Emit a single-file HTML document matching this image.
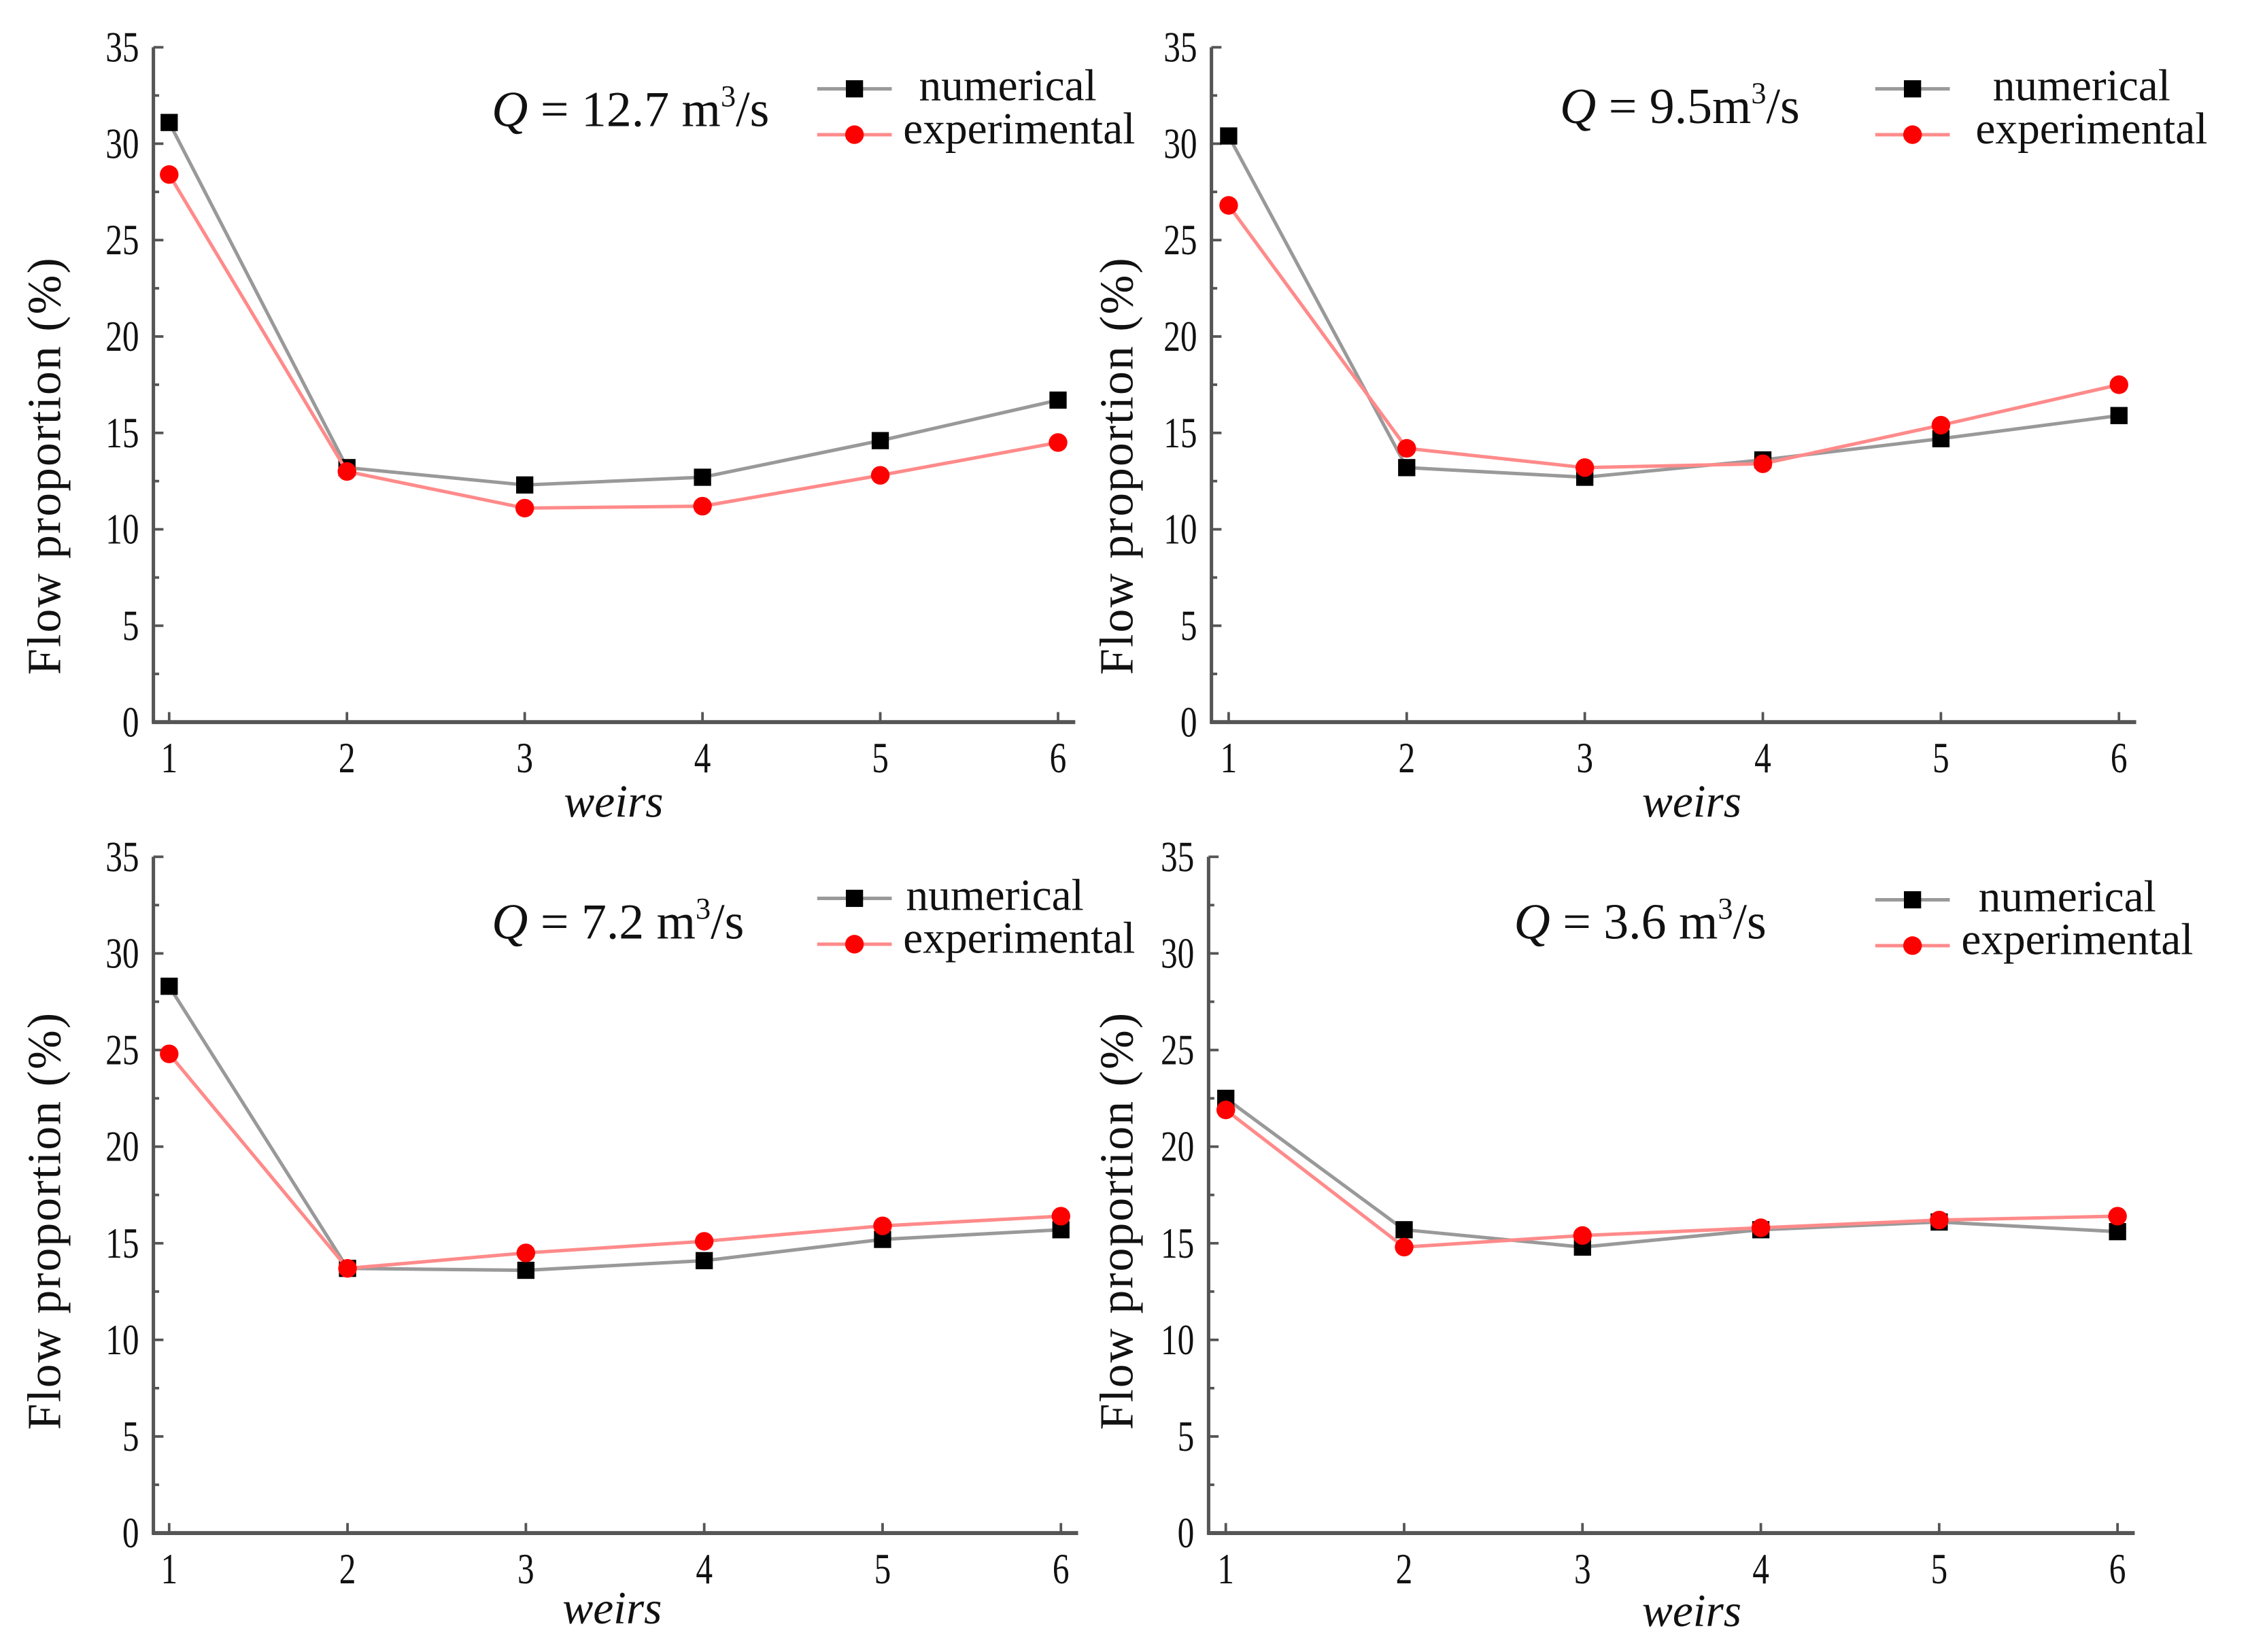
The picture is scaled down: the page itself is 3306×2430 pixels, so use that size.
<!DOCTYPE html>
<html><head><meta charset="utf-8"><style>
html,body{margin:0;padding:0;background:#fff;}
svg{display:block;font-family:"Liberation Serif","DejaVu Serif",serif;}
svg text{font-family:"Liberation Serif","DejaVu Serif",serif;fill:#111;}
</style></head><body>
<svg id="fig" width="3306" height="2430" viewBox="0 0 1568 1153" preserveAspectRatio="none" font-family="Liberation Serif, serif" xmlns="http://www.w3.org/2000/svg"></svg>
<script>
const categories = [1, 2, 3, 4, 5, 6];
const yTicks = [0, 5, 10, 15, 20, 25, 30, 35];
const panelTitles = ["12.7 m", "9.5m", "7.2 m", "3.6 m"];
const numA = [31.1, 13.2, 12.3, 12.7, 14.6, 16.7];
const expA = [28.4, 13.0, 11.1, 11.2, 12.8, 14.5];
const numB = [30.4, 13.2, 12.7, 13.6, 14.7, 15.9];
const expB = [26.8, 14.2, 13.2, 13.4, 15.4, 17.5];
const numC = [28.3, 13.7, 13.6, 14.1, 15.2, 15.7];
const expC = [24.8, 13.7, 14.5, 15.1, 15.9, 16.4];
const numD = [22.5, 15.7, 14.8, 15.7, 16.1, 15.6];
const expD = [21.9, 14.8, 15.4, 15.8, 16.2, 16.4];

const NS = "http://www.w3.org/2000/svg";
const svg = document.getElementById('fig');
function mk(tag, attrs, parent, txt){
  const e = document.createElementNS(NS, tag);
  for (const k in attrs) e.setAttribute(k, attrs[k]);
  if (tag === 'text') e.setAttribute('font-family', 'Liberation Serif, serif');
  if (txt !== undefined) e.textContent = txt;
  (parent || svg).appendChild(e);
  return e;
}
const panels = [
  {ax:107, y0:504, y35:33, x1:118, x6:738, xe:750, num:numA, exp:expA, title:panelTitles[0], qx:343, qy:88, lx:570, ly:62, ntx:641, etx:630, ylx:42, yly:325, wx:428, wy:570, name:'panel-q-12-7'},
  {ax:845, y0:504, y35:33, x1:857, x6:1478, xe:1490, num:numB, exp:expB, title:panelTitles[1], qx:1088, qy:86, lx:1308, ly:62, ntx:1390, etx:1378, ylx:790, yly:325, wx:1180, wy:570, name:'panel-q-9-5'},
  {ax:107, y0:1070, y35:598, x1:118, x6:740, xe:752, num:numC, exp:expC, title:panelTitles[2], qx:343, qy:655, lx:570, ly:627, ntx:632, etx:630, ylx:42, yly:852, wx:427, wy:1133, name:'panel-q-7-2'},
  {ax:843, y0:1070, y35:598, x1:855, x6:1477, xe:1489, num:numD, exp:expD, title:panelTitles[3], qx:1056, qy:655, lx:1308, ly:628, ntx:1380, etx:1368, ylx:790, yly:852, wx:1180, wy:1135, name:'panel-q-3-6'}
];
panels.forEach(p => {
  const g = mk('g', {});
  
  
  const X = c => p.x1 + (c - 1) * (p.x6 - p.x1) / 5;
  const Y = v => p.y0 - v * (p.y0 - p.y35) / 35;
  const ya = mk('line', {x1:p.ax, y1:p.y35, x2:p.ax, y2:p.y0+1, stroke:'#555', 'stroke-width':2.4}, g);
  
  
  const xa = mk('line', {x1:p.ax-1, y1:p.y0, x2:p.xe, y2:p.y0, stroke:'#555', 'stroke-width':2.8}, g);
  
  
  for (let v = 0; v <= 35; v += 2.5) {
    const major = v % 5 === 0;
    mk('line', {x1:p.ax, y1:Y(v), x2:p.ax + (major ? 7 : 4), y2:Y(v), stroke:'#555', 'stroke-width':1.8}, g);
  }
  yTicks.forEach(t => {
    const tl = mk('text', {x:0, y:0, 'text-anchor':'end', 'font-size':30, transform:`translate(${p.ax-10},${Y(t)+10}) scale(0.78,1)`}, g, t);
    
    
  });
  categories.forEach(c => {
    mk('line', {x1:X(c), y1:p.y0, x2:X(c), y2:p.y0-7, stroke:'#555', 'stroke-width':1.8}, g);
    const tl = mk('text', {x:0, y:0, 'text-anchor':'middle', 'font-size':30, transform:`translate(${X(c)},${p.y0+35}) scale(0.78,1)`}, g, c);
    
    
  });
  const yl = mk('text', {x:0, y:0, 'text-anchor':'middle', 'font-size':33, 'letter-spacing':'1', transform:`translate(${p.ylx},${p.yly}) rotate(-90)`}, g, 'Flow proportion  (%)');
  
  
  const wl = mk('text', {x:p.wx, y:p.wy, 'text-anchor':'middle', 'font-size':32, 'font-style':'italic'}, g, 'weirs');
  
  
  const q = mk('text', {x:p.qx, y:p.qy, 'font-size':35}, g);
  
  
  mk('tspan', {'font-style':'italic'}, q, 'Q');
  mk('tspan', {}, q, ' = ' + p.title);
  mk('tspan', {'font-size':21, dy:-14}, q, '3');
  mk('tspan', {dy:14}, q, '/s');
  const series = [
    {vals:p.num, color:'#999', mark:'#000', sq:true, name:'numerical'},
    {vals:p.exp, color:'#ff8a8a', mark:'#f00', sq:false, name:'experimental'}
  ];
  series.forEach(s => {
    const pts = categories.map((c, i) => X(c) + ',' + Y(s.vals[i])).join(' ');
    const pl = mk('polyline', {points:pts, fill:'none', stroke:s.color, 'stroke-width':2.4}, g);
    
    
    categories.forEach((c, i) => {
      let m;
      if (s.sq) m = mk('rect', {x:X(c)-6, y:Y(s.vals[i])-6, width:12, height:12, fill:s.mark}, g);
      else m = mk('circle', {cx:X(c), cy:Y(s.vals[i]), r:6.5, fill:s.mark}, g);
      
      
    });
  });
  const lg = mk('g', {}, g);
  
  
  mk('line', {x1:p.lx, y1:p.ly, x2:p.lx+52, y2:p.ly, stroke:'#999', 'stroke-width':2.4}, lg);
  mk('rect', {x:p.lx+20, y:p.ly-6, width:12, height:12, fill:'#000'}, lg);
  const t1 = mk('text', {x:p.ntx, y:p.ly+8, 'font-size':31}, lg, 'numerical');
  
  
  mk('line', {x1:p.lx, y1:p.ly+32, x2:p.lx+52, y2:p.ly+32, stroke:'#ff8a8a', 'stroke-width':2.4}, lg);
  mk('circle', {cx:p.lx+26, cy:p.ly+32, r:6.5, fill:'#f00'}, lg);
  const t2 = mk('text', {x:p.etx, y:p.ly+38, 'font-size':31}, lg, 'experimental');
  
  
});
</script>
</body></html>
